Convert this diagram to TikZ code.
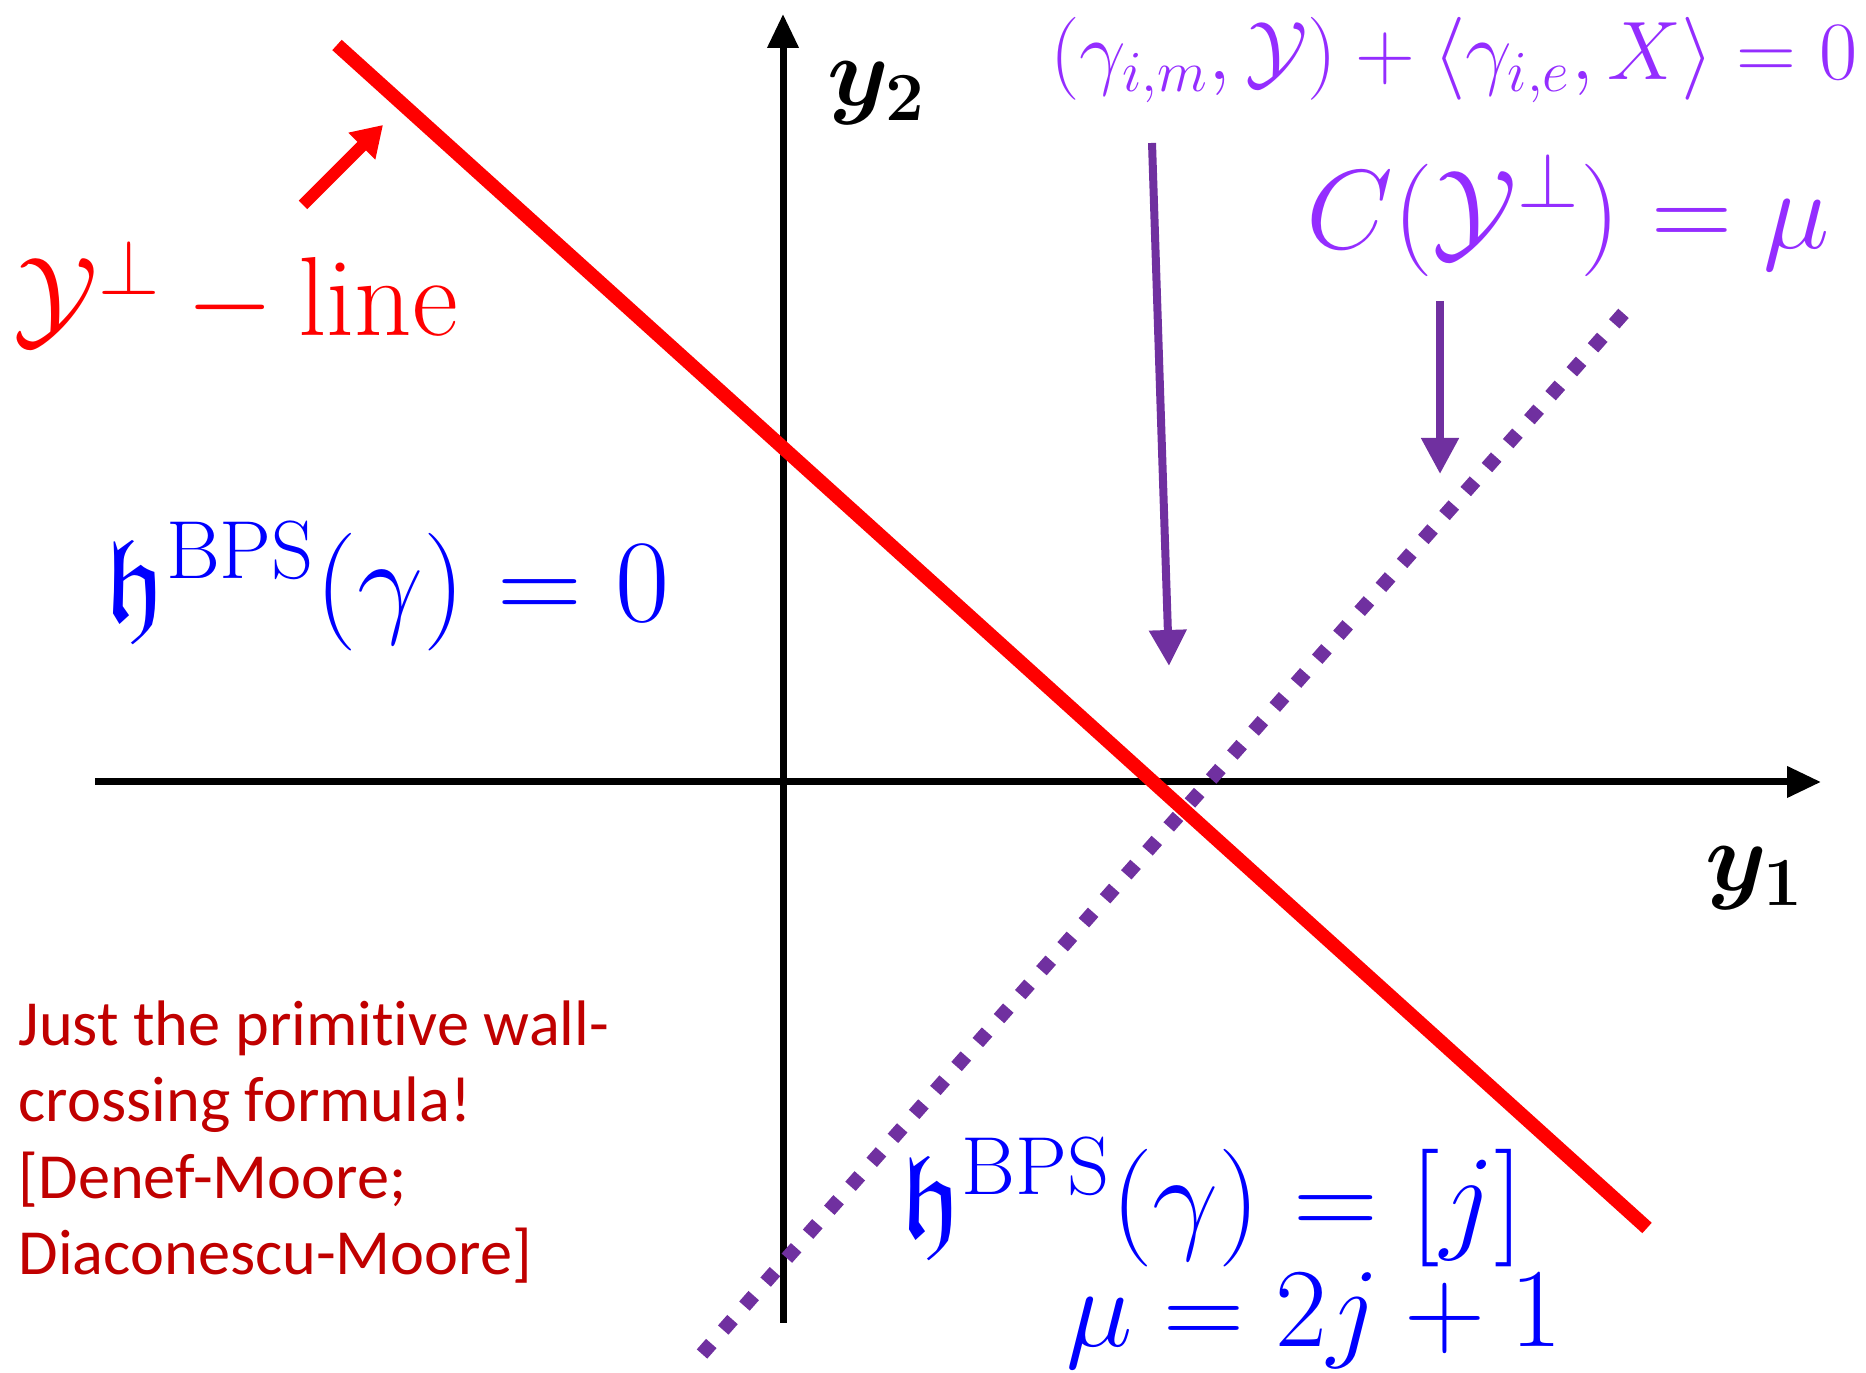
\RequirePackage{fix-cm}
\documentclass[tikz,border=0pt]{standalone}
\usepackage{amssymb}
\usepackage{bm}
\usepackage{fontspec}
\newfontfamily\calibri[Ligatures=NoCommon]{Carlito}
\DeclareFontFamily{U}{euf}{}
\DeclareFontShape{U}{euf}{m}{n}{<-> eufm10}{}
\usetikzlibrary{arrows.meta}
\definecolor{wallred}{RGB}{255,0,0}
\definecolor{notered}{RGB}{192,0,0}
\definecolor{ptrpurple}{RGB}{112,48,160}
\definecolor{eqviolet}{RGB}{148,45,255}
\definecolor{bpsblue}{RGB}{0,0,255}
\begin{document}
\begin{tikzpicture}
\tikzset{axis/.style={line width=0.07cm,-{Triangle[length=0.34cm,width=0.30cm]}},
  wall/.style={line width=0.14cm,wallred},
  cline/.style={line width=0.14cm,ptrpurple,dash pattern=on 0.14cm off 0.18cm},
  ptr/.style={line width=0.08cm,ptrpurple,-{Triangle[length=0.36cm,width=0.36cm]}},
  wallptr/.style={line width=0.12cm,wallred,-{Triangle[length=0.30cm,width=0.36cm]}},
  lbl/.style={inner sep=0pt,font=\fontsize{#1}{#1}\selectfont},
  note/.style={inner sep=0pt,anchor=west,align=left,text=notered,font=\calibri\fontsize{18.3}{21.7}\selectfont}}
\useasboundingbox (0,0) rectangle (18.66,13.72);
% axes
\coordinate (xl) at (0.95,5.90);
\coordinate (xr) at (18.21,5.90);
\coordinate (yb) at (7.83,0.49);
\coordinate (yt) at (7.83,13.58);
\draw[axis] (xl) -- (xr);
\draw[axis] (yb) -- (yt);
\node[lbl=28] (y2) at (8.77,12.79) {$\bm{y_2}$};
\node[lbl=28] (y1) at (17.55,4.94) {$\bm{y_1}$};
% the wall and the curve
\coordinate (w1) at (3.37,13.27);
\coordinate (w2) at (16.47,1.44);
\draw[wall] (w1) -- (w2);
\coordinate (c1) at (7.02,0.18);
\coordinate (c2) at (16.30,10.66);
\draw[cline] (c1) -- (c2);
% labels
\node[lbl=32,text=wallred] (perp) at (2.36,10.79) {$\mathcal{Y}^\perp-\mathrm{line}$};
\coordinate (wp1) at (3.03,11.67);
\coordinate (wp2) at (3.83,12.47);
\draw[wallptr] (wp1) -- (wp2);
\node[lbl=23.6,text=eqviolet] (cond) at (14.54,13.12) {$(\gamma_{i,m},\mathcal{Y})+\langle\gamma_{i,e},X\rangle=0$};
\node[lbl=32,text=eqviolet] (cmu) at (15.68,11.57) {$C(\mathcal{Y}^\perp)=\mu$};
\coordinate (p1a) at (11.52,12.29);
\coordinate (p1b) at (11.69,7.06);
\coordinate (p2a) at (14.40,10.71);
\coordinate (p2b) at (14.40,8.98);
\draw[ptr] (p1a) -- (p1b);
\draw[ptr] (p2a) -- (p2b);
\node[lbl=33.5,text=bpsblue] (h0) at (3.87,7.86) {$\mathfrak{h}^{\mathrm{BPS}}(\gamma)=0$};
\node[lbl=33.5,text=bpsblue] (hj) at (12.12,1.70) {$\mathfrak{h}^{\mathrm{BPS}}(\gamma)=[j]$};
\node[lbl=32,text=bpsblue] (mu) at (13.14,0.51) {$\mu=2j+1$};
\node[note] (pwcf) at (0.18,2.30) {Just the primitive wall-\\crossing formula!\\{}[Denef-Moore;\\Diaconescu-Moore]};
\end{tikzpicture}
\end{document}
